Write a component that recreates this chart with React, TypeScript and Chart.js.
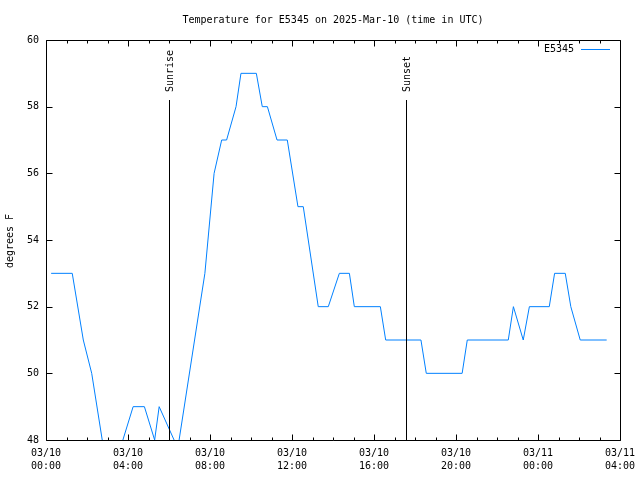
import { useEffect, useRef } from 'react';
import { Chart, registerables } from 'chart.js';

Chart.register(...registerables);

const FONT = '"DejaVu Sans Mono", "Liberation Mono", monospace';

const chartTitle = 'Temperature for E5345 on 2025-Mar-10 (time in UTC)';
const seriesName = 'E5345';
const yAxisTitle = 'degrees F';

// hours since 03/10 00:00 UTC
const hours = [
  0.25, 1.28, 1.82, 2.23, 3.0, 3.25, 4.25, 4.8, 5.3, 5.52, 6.43, 7.75, 8.2, 8.57, 8.81,
  9.27, 9.51, 10.26, 10.55, 10.8, 11.27, 11.77, 12.29, 12.55, 13.28, 13.77, 14.31, 14.8,
  15.04, 16.31, 16.57, 18.29, 18.55, 20.3, 20.55, 22.55, 22.8, 23.28, 23.58, 24.55, 24.81,
  25.33, 25.6, 26.06, 27.35,
];
const temps = [
  53, 53, 51, 50, 47, 47, 49, 49, 48, 49, 47.75, 53, 56, 57, 57,
  58, 59, 59, 58, 58, 57, 57, 55, 55, 52, 52, 53, 53,
  52, 52, 51, 51, 50, 50, 51, 51, 52, 51, 52, 52, 53,
  53, 52, 51, 51,
];

const xTickDates = ['03/10', '03/10', '03/10', '03/10', '03/10', '03/10', '03/11', '03/11'];
const xTickTimes = ['00:00', '04:00', '08:00', '12:00', '16:00', '20:00', '00:00', '04:00'];

const sunLabels = ['Sunrise', 'Sunset'];
const sunHours = [6.02, 17.54];
const sunLineTop = 58.2;

const LINE_COLOR = 'rgb(0,128,255)';

const decorPlugin = {
  id: 'gnuplotDecor',
  afterDraw(chart: any) {
    const { ctx, chartArea: a, scales } = chart;
    const xs = scales.x;
    const ys = scales.y;
    const L = Math.round(a.left) + 0.5;
    const R = Math.round(a.right) + 0.5;
    const T = Math.round(a.top) + 0.5;
    const B = Math.round(a.bottom) + 0.5;
    ctx.save();
    ctx.strokeStyle = '#000';
    ctx.lineWidth = 1;

    // border
    ctx.beginPath();
    ctx.rect(L, T, R - L, B - T);
    ctx.stroke();

    // x ticks (inward, mirrored)
    ctx.beginPath();
    for (const t of xs.ticks) {
      const v = Number(t.value);
      const len = v % 4 === 0 ? 6 : 3;
      const px = Math.round(xs.getPixelForValue(v)) + 0.5;
      ctx.moveTo(px, B);
      ctx.lineTo(px, B - len);
      ctx.moveTo(px, T);
      ctx.lineTo(px, T + len);
    }
    // y ticks
    for (const t of ys.ticks) {
      const py = Math.round(ys.getPixelForValue(Number(t.value))) + 0.5;
      ctx.moveTo(L, py);
      ctx.lineTo(L + 6, py);
      ctx.moveTo(R, py);
      ctx.lineTo(R - 6, py);
    }
    ctx.stroke();

    // sunrise / sunset
    ctx.font = `10px ${FONT}`;
    ctx.fillStyle = '#000';
    sunHours.forEach((h, i) => {
      const px = Math.round(xs.getPixelForValue(h)) + 0.5;
      const top = ys.getPixelForValue(sunLineTop);
      ctx.beginPath();
      ctx.moveTo(px, top);
      ctx.lineTo(px, B);
      ctx.stroke();
      ctx.save();
      ctx.translate(px + 0.5, top - 8);
      ctx.rotate(-Math.PI / 2);
      ctx.textAlign = 'left';
      ctx.textBaseline = 'middle';
      ctx.fillText(sunLabels[i], 0, 0);
      ctx.restore();
    });

    // legend
    ctx.textAlign = 'right';
    ctx.textBaseline = 'middle';
    ctx.fillText(seriesName, a.right - 46, a.top + 9);
    ctx.strokeStyle = LINE_COLOR;
    ctx.beginPath();
    ctx.moveTo(a.right - 39, Math.round(a.top + 9) + 0.5);
    ctx.lineTo(a.right - 10, Math.round(a.top + 9) + 0.5);
    ctx.stroke();

    // title
    ctx.textAlign = 'center';
    ctx.fillText(chartTitle, (a.left + a.right) / 2, 20);

    // y axis title
    ctx.save();
    ctx.translate(10, (a.top + a.bottom) / 2 + 1);
    ctx.rotate(-Math.PI / 2);
    ctx.textAlign = 'center';
    ctx.textBaseline = 'middle';
    ctx.fillText(yAxisTitle, 0, 0);
    ctx.restore();

    ctx.restore();
  },
};

export default function App() {
  const ref = useRef<HTMLCanvasElement | null>(null);

  useEffect(() => {
    if (!ref.current) return;
    const chart = new Chart(ref.current, {
      type: 'line',
      data: {
        datasets: [
          {
            label: seriesName,
            data: hours.map((h, i) => ({ x: h, y: temps[i] })),
            borderColor: LINE_COLOR,
            borderWidth: 1,
            pointRadius: 0,
            tension: 0,
            fill: false,
          },
        ],
      },
      options: {
        animation: false,
        responsive: false,
        devicePixelRatio: 1,
        layout: { padding: { top: 40, right: 20, left: 0, bottom: 0 } },
        plugins: {
          legend: { display: false },
          title: { display: false },
          tooltip: { enabled: false },
        },
        scales: {
          x: {
            type: 'linear',
            min: 0,
            max: 28,
            grid: { display: false, drawTicks: false },
            border: { display: false },
            afterFit: (s: any) => {
              s.height = 40;
              s.paddingLeft = 0;
              s.paddingRight = 0;
            },
            ticks: {
              stepSize: 1,
              maxTicksLimit: 100,
              autoSkip: false,
              maxRotation: 0,
              minRotation: 0,
              padding: 7,
              color: '#000',
              font: { family: FONT, size: 10, lineHeight: 1.3 },
              callback: (value: any) => {
                const v = Number(value);
                if (v % 4 !== 0) return '';
                const i = v / 4;
                return [xTickDates[i], xTickTimes[i]];
              },
            },
          },
          y: {
            type: 'linear',
            min: 48,
            max: 60,
            grid: { display: false, drawTicks: false },
            border: { display: false },
            afterFit: (s: any) => {
              s.width = 46;
              s.paddingTop = 0;
              s.paddingBottom = 0;
            },
            ticks: {
              stepSize: 2,
              padding: 7,
              color: '#000',
              font: { family: FONT, size: 10 },
            },
          },
        },
      },
      plugins: [decorPlugin],
    });
    return () => chart.destroy();
  }, []);

  return (
    <div style={{ position: 'absolute', left: 0, top: 0, width: 640, height: 480, background: '#fff' }}>
      <canvas ref={ref} width={640} height={480} style={{ display: 'block' }} />
    </div>
  );
}
